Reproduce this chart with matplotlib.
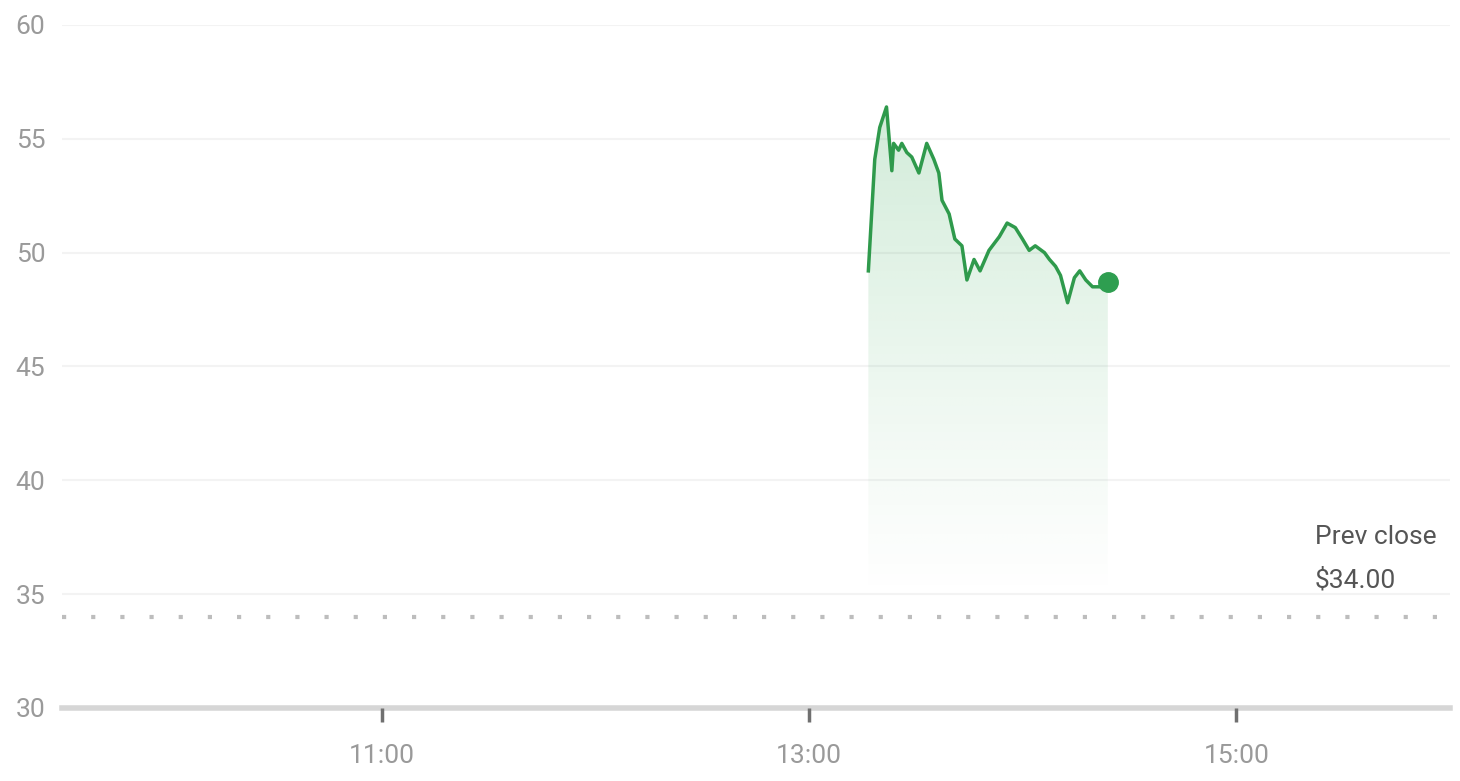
import matplotlib
matplotlib.use("Agg")
import matplotlib.pyplot as plt
import numpy as np
from matplotlib.patches import Polygon

# ---------------------------------------------------------------------------
# Data
# ---------------------------------------------------------------------------
# minutes after 13:00 for each price point
minutes_after_13 = [16.6, 18.4, 19.8, 21.7, 23.2, 23.7, 25.1, 26.0, 27.4, 28.8,
                    30.8, 33.0, 35.0, 36.4, 37.3, 39.3, 40.9, 42.9, 44.3, 46.3,
                    48.0, 50.5, 53.4, 55.6, 57.9, 59.9, 61.8, 63.5, 66.1, 67.5,
                    69.2, 70.6, 72.6, 74.5, 76.0, 77.7, 79.6, 81.9, 83.9]
prices = [49.2, 54.1, 55.5, 56.4, 53.6, 54.8, 54.5, 54.8, 54.4, 54.2,
          53.5, 54.8, 54.1, 53.5, 52.3, 51.7, 50.6, 50.3, 48.8, 49.7,
          49.2, 50.1, 50.7, 51.3, 51.1, 50.6, 50.1, 50.3, 50.0, 49.7,
          49.4, 49.0, 47.8, 48.9, 49.2, 48.8, 48.5, 48.5, 48.7]
prev_close = 34.00

y_ticks = [30, 35, 40, 45, 50, 55, 60]
x_ticks = [11, 13, 15]
x_tick_labels = ["11:00", "13:00", "15:00"]

hours = 13 + np.array(minutes_after_13) / 60.0
prices = np.array(prices)

LINE_GREEN = "#2f9a4c"
LABEL_GREY = "#9a9a9a"
FONT = ["Roboto", "DejaVu Sans"]

# ---------------------------------------------------------------------------
# Figure
# ---------------------------------------------------------------------------
fig = plt.figure(figsize=(14.6, 7.81), dpi=100)
ax = fig.add_axes([0.0425, 0.0935, 0.9505, 0.8745])
ax.set_xlim(9.5, 16.0)
ax.set_ylim(30, 60)

for s in ax.spines.values():
    s.set_visible(False)

# faint horizontal grid
for v in y_ticks[1:]:
    ax.axhline(v, color="#f3f3f3", lw=1.5, zorder=0)

# baseline at 30
ax.axhline(30, color="#d6d6d6", lw=4, zorder=1, clip_on=False)

# prev close dotted line + label
ax.axhline(prev_close, color="#bdbdbd", lw=3, linestyle=(0, (1, 6)), zorder=1)
ax.text(1315 / 1460, 1 - 537 / 781, "Prev close", transform=fig.transFigure,
        ha="left", va="center", fontsize=19, color="#555555", family=FONT)
ax.text(1315 / 1460, 1 - 580 / 781, f"${prev_close:.2f}", transform=fig.transFigure,
        ha="left", va="center", fontsize=19, color="#555555", family=FONT)

# gradient fill under the line, fading out towards prev close
fill_bottom = 34.8
verts = np.vstack([[hours[0], fill_bottom],
                   np.column_stack([hours, prices]),
                   [hours[-1], fill_bottom]])
poly = Polygon(verts, closed=True, facecolor="none", edgecolor="none")
ax.add_patch(poly)
grad = np.linspace(0, 1, 256).reshape(-1, 1)
rgba = np.zeros((256, 1, 4))
rgba[..., 0] = 0.20
rgba[..., 1] = 0.66
rgba[..., 2] = 0.33
rgba[..., 3] = 0.22 * grad[::-1] ** 1.1
img = ax.imshow(rgba, aspect="auto", origin="upper",
                extent=[hours[0], hours[-1], fill_bottom, prices.max()],
                zorder=2, interpolation="bilinear")
img.set_clip_path(poly)

ax.plot(hours, prices, color=LINE_GREEN, lw=2.5, zorder=3, solid_joinstyle="round")
ax.plot(hours[-1], prices[-1], "o", color="#2e9e50", markersize=14, zorder=4)

# ticks
ax.set_yticks(y_ticks)
ax.set_yticklabels([str(v) for v in y_ticks])
ax.set_xticks(x_ticks)
ax.set_xticklabels(x_tick_labels)
ax.tick_params(axis="y", length=0, pad=12, labelsize=19, labelcolor=LABEL_GREY)
ax.tick_params(axis="x", length=10, width=2.5, color="#707070", pad=16,
               labelsize=19, labelcolor=LABEL_GREY, direction="out")
for lab in ax.get_xticklabels() + ax.get_yticklabels():
    lab.set_family(FONT)

fig.savefig("out.png", dpi=100, facecolor="white")
